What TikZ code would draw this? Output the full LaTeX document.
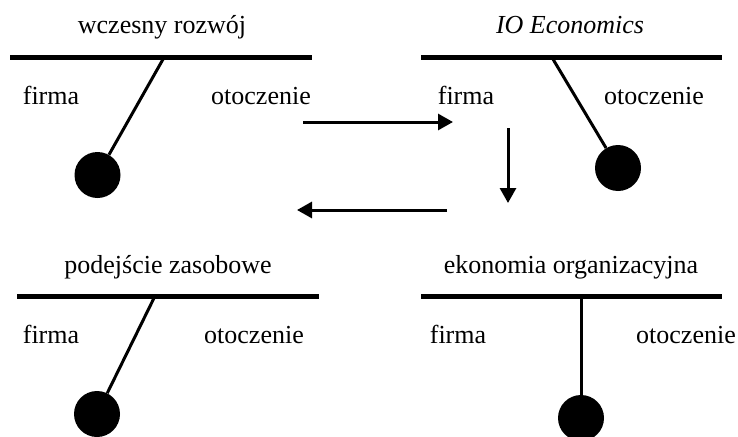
\documentclass[tikz,border=0pt]{standalone}
\usepackage{fontspec}
\setmainfont{Liberation Serif}
\usetikzlibrary{arrows.meta}

\begin{document}
\begin{tikzpicture}
  [x=1pt,y=-1pt,
   txt/.style={font=\fontsize{26}{30}\selectfont,anchor=base,inner sep=0pt},
   ball/.style={circle,fill=black,minimum size=46pt,inner sep=0pt},
   bar/.style={line width=5pt},
   stem/.style={line width=3pt},
   flow/.style={line width=3pt,-{Triangle[length=15pt,width=16pt]}}]
  \useasboundingbox (0,0) rectangle (738,436);

  % wczesny rozwoj
  \node[txt] (t1) at (162,34) {wczesny rozwój};
  \coordinate (l1) at (10,57.5);  \coordinate (r1) at (312,57.5);
  \coordinate (h1) at (164,57.5);
  \node[ball] (k1) at (97.5,175) {};
  \node[txt] (f1) at (51,104) {firma};
  \node[txt] (o1) at (261,104) {otoczenie};

  % IO Economics
  \node[txt] (t2) at (570,34) {\itshape IO Economics};
  \coordinate (l2) at (421,57.5); \coordinate (r2) at (722,57.5);
  \coordinate (h2) at (552,57.5);
  \node[ball] (k2) at (618,168) {};
  \node[txt] (f2) at (466,104) {firma};
  \node[txt] (o2) at (654,104) {otoczenie};

  % podejscie zasobowe
  \node[txt] (t3) at (168,273) {podejście zasobowe};
  \coordinate (l3) at (17,296);   \coordinate (r3) at (319,296);
  \coordinate (h3) at (155,296);
  \node[ball] (k3) at (97,414) {};
  \node[txt] (f3) at (51,343) {firma};
  \node[txt] (o3) at (254,343) {otoczenie};

  % ekonomia organizacyjna
  \node[txt] (t4) at (571,273) {ekonomia organizacyjna};
  \coordinate (l4) at (421,296);  \coordinate (r4) at (722,296);
  \coordinate (h4) at (581,296);
  \node[ball] (k4) at (581,418) {};
  \node[txt] (f4) at (458,343) {firma};
  \node[txt] (o4) at (686,343) {otoczenie};

  \foreach \i in {1,...,4} {
    \draw[bar] (l\i) -- (r\i);
    \draw[stem] (h\i) -- (k\i);
  }

  % arrows
  \coordinate (a1) at (303,122); \coordinate (a2) at (453,122);
  \coordinate (d1) at (508,128); \coordinate (d2) at (508,203);
  \coordinate (e1) at (447,210); \coordinate (e2) at (297,210);
  \foreach \from/\to in {a1/a2,d1/d2,e1/e2}
    \draw[flow] (\from) -- (\to);

\end{tikzpicture}
\end{document}
